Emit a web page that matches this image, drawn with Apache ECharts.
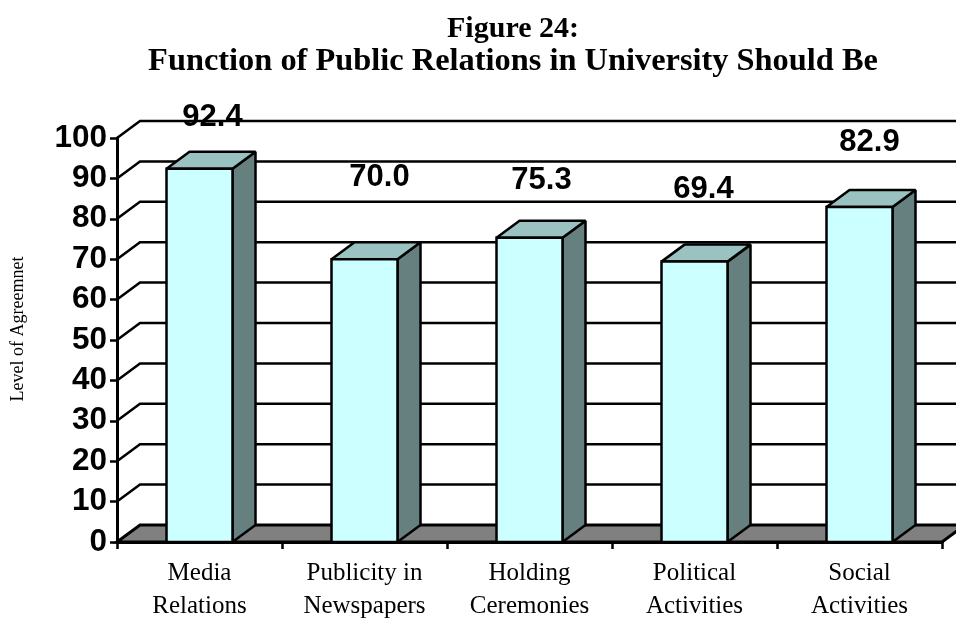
<!DOCTYPE html>
<html>
<head>
<meta charset="utf-8">
<title>Figure 24</title>
<script src="https://cdn.jsdelivr.net/npm/echarts@6/dist/echarts.min.js"></script>
<style>
	html, body { margin: 0; padding: 0; background: #fff; }
	#chart { width: 956px; height: 618px; }
</style>
</head>
<body>
<div id="chart"></div>
<script>
	var categories = ['Media\nRelations', 'Publicity in\nNewspapers', 'Holding\nCeremonies', 'Political\nActivities', 'Social\nActivities']
	var values = [92.4, 70.0, 75.3, 69.4, 82.9]
	var valueTicks = [0, 10, 20, 30, 40, 50, 60, 70, 80, 90, 100]

	// hand placed value labels in the original, offset from the bar's top centre
	var labelNudge = [[13, -51], [15, -82], [12, -57], [9, -72], [10, -65]]

	var depthX = 23
	var depthY = 17
	var barRatio = 0.4
	var titleFont = '"Liberation Serif", "Times New Roman", serif'

	function renderWall(params, api) {
		var sys = params.coordSys
		var y = api.coord([0, api.value(0)])[1]
		var right = sys.x + sys.width + depthX
		if (api.value(0) === 0) {
			return {
				type: 'polygon',
				shape: { points: [[sys.x, y], [sys.x + depthX, y - depthY], [right, y - depthY], [right - depthX, y]] },
				style: { fill: '#808080', stroke: '#000', lineWidth: 3 }
			}
		}
		return {
			type: 'polyline',
			shape: { points: [[sys.x, y], [sys.x + depthX, y - depthY], [right, y - depthY]] },
			style: { fill: 'none', stroke: '#000', lineWidth: 2.5 }
		}
	}

	function renderBar(params, api) {
		var i = api.value(0)
		var top = api.coord([i, api.value(1)])
		var base = api.coord([i, 0])
		var w = api.size([1, 0])[0] * barRatio
		var l = top[0] - w / 2
		var r = top[0] + w / 2
		var nudge = labelNudge[params.dataIndex]
		return {
			type: 'group',
			children: [
				{
					type: 'polygon',
					shape: { points: [[r, top[1]], [r + depthX, top[1] - depthY], [r + depthX, base[1] - depthY], [r, base[1]]] },
					style: { fill: '#668080', stroke: '#000', lineWidth: 2.5, lineJoin: 'bevel' }
				},
				{
					type: 'polygon',
					shape: { points: [[l, top[1]], [l + depthX, top[1] - depthY], [r + depthX, top[1] - depthY], [r, top[1]]] },
					style: { fill: '#99C2C0', stroke: '#000', lineWidth: 2.5, lineJoin: 'bevel' }
				},
				{
					type: 'rect',
					shape: { x: l, y: top[1], width: w, height: base[1] - top[1] },
					style: { fill: '#CCFFFF', stroke: '#000', lineWidth: 2.5 }
				},
				{
					type: 'text',
					x: top[0] + nudge[0],
					y: top[1] + nudge[1],
					style: {
						text: api.value(1).toFixed(1),
						fill: '#000',
						font: 'bold 31px "Liberation Sans", Arial, sans-serif',
						textAlign: 'center',
						textVerticalAlign: 'middle'
					}
				}
			]
		}
	}

	var chart = echarts.init(document.getElementById('chart'), null, { renderer: 'canvas' })
	chart.setOption({
		animation: false,
		backgroundColor: '#fff',
		title: [
			{
				text: 'Figure 24:',
				left: 513,
				top: 14,
				textAlign: 'center',
				padding: 0,
				textStyle: { color: '#000', fontSize: 30, fontWeight: 'bold', fontFamily: titleFont }
			},
			{
				text: 'Function of Public Relations in University Should Be',
				left: 513,
				top: 46,
				textAlign: 'center',
				padding: 0,
				textStyle: { color: '#000', fontSize: 32.4, fontWeight: 'bold', fontFamily: titleFont }
			}
		],
		graphic: [{
			type: 'text',
			x: 18,
			y: 329,
			rotation: Math.PI / 2,
			style: {
				text: 'Level of Agreemnet',
				fill: '#000',
				font: '18px "Liberation Serif", "Times New Roman", serif',
				textAlign: 'center',
				textVerticalAlign: 'middle'
			}
		}],
		grid: { left: 117, right: 14, top: 138, bottom: 76, containLabel: false, outerBoundsMode: 'none' },
		xAxis: {
			type: 'category',
			data: categories,
			z: 5,
			axisLine: { lineStyle: { color: '#000', width: 3 } },
			axisTick: { show: true, length: 7, alignWithLabel: false, lineStyle: { color: '#000', width: 2.5 } },
			axisLabel: {
				color: '#000',
				fontSize: 25,
				lineHeight: 33,
				margin: 15,
				interval: 0,
				fontFamily: '"Liberation Serif", "Times New Roman", serif'
			}
		},
		yAxis: {
			type: 'value',
			min: 0,
			max: 100,
			interval: 10,
			z: 5,
			splitLine: { show: false },
			axisLine: { show: true, lineStyle: { color: '#000', width: 3 } },
			axisTick: { show: true, length: 7, lineStyle: { color: '#000', width: 2.5 } },
			axisLabel: {
				color: '#000',
				fontSize: 31.5,
				fontWeight: 'bold',
				margin: 10,
				fontFamily: '"Liberation Sans", Arial, sans-serif'
			}
		},
		series: [
			{
				type: 'custom',
				renderItem: renderWall,
				clip: false,
				silent: true,
				z: 1,
				encode: { y: 0 },
				data: valueTicks.map(function (v) { return [v] })
			},
			{
				type: 'custom',
				renderItem: renderBar,
				clip: false,
				z: 2,
				encode: { x: 0, y: 1 },
				data: values.map(function (v, i) { return [i, v] })
			}
		]
	})
</script>
</body>
</html>
